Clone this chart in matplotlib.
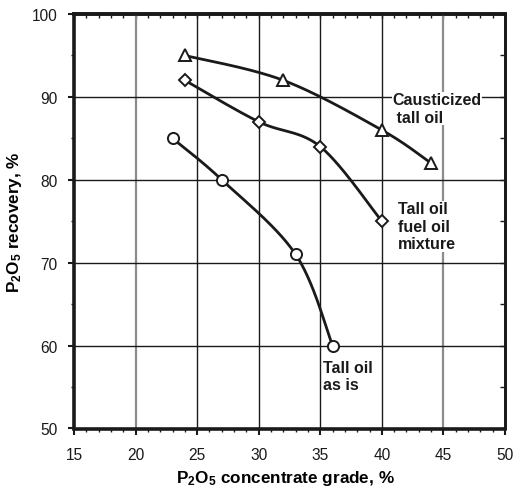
import numpy as np
import matplotlib
matplotlib.use("Agg")
import matplotlib.pyplot as plt
from matplotlib.ticker import MultipleLocator, NullLocator, NullFormatter

plt.rcParams['font.family'] = ['Liberation Sans', 'DejaVu Sans']
plt.rcParams['mathtext.fontset'] = 'custom'
plt.rcParams['mathtext.rm'] = 'Liberation Sans'
plt.rcParams['mathtext.bf'] = 'Liberation Sans:bold'

# Recovery vs. concentrate grade for the three reagent types
grade_caustic = [24, 32, 40, 44]
recovery_caustic = [95, 92, 86, 82]
grade_mixture = [24, 30, 35, 40]
recovery_mixture = [92, 87, 84, 75]
grade_asis = [23, 27, 33, 36]
recovery_asis = [85, 80, 71, 60]

label_caustic = "Causticized\n tall oil"
label_mixture = "Tall oil\nfuel oil\nmixture"
label_asis = "Tall oil\nas is"


def smooth_curve(x, y, n=60):
    """Bezier smoothing through the points (Catmull-Rom style)."""
    p = np.column_stack([x, y]).astype(float)
    ext = np.vstack([p[0], p, p[-1]])
    t = np.linspace(0, 1, n)[:, None]
    out = []
    for i in range(len(p) - 1):
        p0, p1, p2, p3 = ext[i], ext[i + 1], ext[i + 2], ext[i + 3]
        b1 = p1 + (p2 - p0) / 6.0
        b2 = p2 - (p3 - p1) / 6.0
        seg = ((1 - t) ** 3 * p1 + 3 * (1 - t) ** 2 * t * b1
               + 3 * (1 - t) * t ** 2 * b2 + t ** 3 * p2)
        out.append(seg if i == 0 else seg[1:])
    c = np.vstack(out)
    return c[:, 0], c[:, 1]


fig = plt.figure(figsize=(5.15, 4.89), dpi=100)
ax = fig.add_axes([74 / 515, 1 - 429.5 / 489, 431 / 515, 414.5 / 489])

ax.set_xlim(15, 50)
ax.set_ylim(50, 100)

# grid lines: black inside, grey at 20 and 45
for gx in [25, 30, 35, 40]:
    ax.axvline(gx, color='#1a1a1a', lw=1.0, zorder=1)
for gx in [20, 45]:
    ax.axvline(gx, color='#8c8c8c', lw=1.6, zorder=1)
for gy in [60, 70, 80, 90]:
    ax.axhline(gy, color='#1a1a1a', lw=1.0, zorder=1)

series = [
    (grade_caustic, recovery_caustic, '^', 9),
    (grade_mixture, recovery_mixture, 'D', 6.5),
    (grade_asis, recovery_asis, 'o', 8),
]
for gx, ry, mk, ms in series:
    xs, ys = smooth_curve(gx, ry)
    ax.plot(xs, ys, color='#1a1a1a', lw=2.0, zorder=3)
    ax.plot(gx, ry, linestyle='none', marker=mk, ms=ms, mfc='white',
            mec='#1a1a1a', mew=1.4, zorder=4)

tstyle = dict(fontsize=11.5, fontweight='bold', color='#1a1a1a', zorder=2,
              linespacing=1.2)
box = dict(facecolor='white', edgecolor='none', pad=0.5)
ax.text(40.85, 88.6, label_caustic, ha='left', va='center', bbox=box, **tstyle)
ax.text(41.3, 74.4, label_mixture, ha='left', va='center', bbox=box, **tstyle)
ax.text(35.2, 56.3, label_asis, ha='left', va='center', bbox=box, **tstyle)

ax.set_xlabel(r"$\mathbf{P_2O_5}$ concentrate grade, %", fontsize=12.3,
              fontweight='bold')
ax.set_ylabel(r"$\mathbf{P_2O_5}$ recovery, %", fontsize=12.3,
              fontweight='bold')
ax.xaxis.set_label_coords(0.49, -0.095)
ax.yaxis.set_label_coords(-0.115, 0.5)

ax.xaxis.set_major_locator(MultipleLocator(5))
ax.xaxis.set_minor_locator(MultipleLocator(1))
ax.yaxis.set_major_locator(MultipleLocator(10))
ax.yaxis.set_minor_locator(MultipleLocator(5))

ax.tick_params(axis='both', which='major', labelsize=11.2, length=4.5,
               width=1.5, direction='out', colors='#1a1a1a')
ax.tick_params(axis='x', which='major', pad=9)
ax.tick_params(axis='y', which='major', pad=7.5)
ax.tick_params(axis='both', which='minor', length=2.5, width=1,
               direction='out', colors='#1a1a1a')
ax.tick_params(top=False, right=False, which='both')

# inward minor ticks along the top and right edges
top = ax.secondary_xaxis('top')
top.xaxis.set_major_locator(NullLocator())
top.xaxis.set_minor_locator(MultipleLocator(1))
top.xaxis.set_minor_formatter(NullFormatter())
top.tick_params(which='minor', direction='in', length=3, width=1,
                colors='#1a1a1a')
top.spines['top'].set_linewidth(2.6)
top.spines['top'].set_color('#1a1a1a')

right = ax.secondary_yaxis('right')
right.yaxis.set_major_locator(NullLocator())
right.yaxis.set_minor_locator(MultipleLocator(5))
right.yaxis.set_minor_formatter(NullFormatter())
right.tick_params(which='minor', direction='in', length=3.5, width=1,
                  colors='#1a1a1a')
right.spines['right'].set_linewidth(2.0)
right.spines['right'].set_color('#1a1a1a')

for side in ['left', 'bottom', 'top']:
    ax.spines[side].set_linewidth(2.6)
    ax.spines[side].set_color('#1a1a1a')
ax.spines['right'].set_linewidth(2.0)
ax.spines['right'].set_color('#1a1a1a')

fig.savefig("out.png", dpi=100)
